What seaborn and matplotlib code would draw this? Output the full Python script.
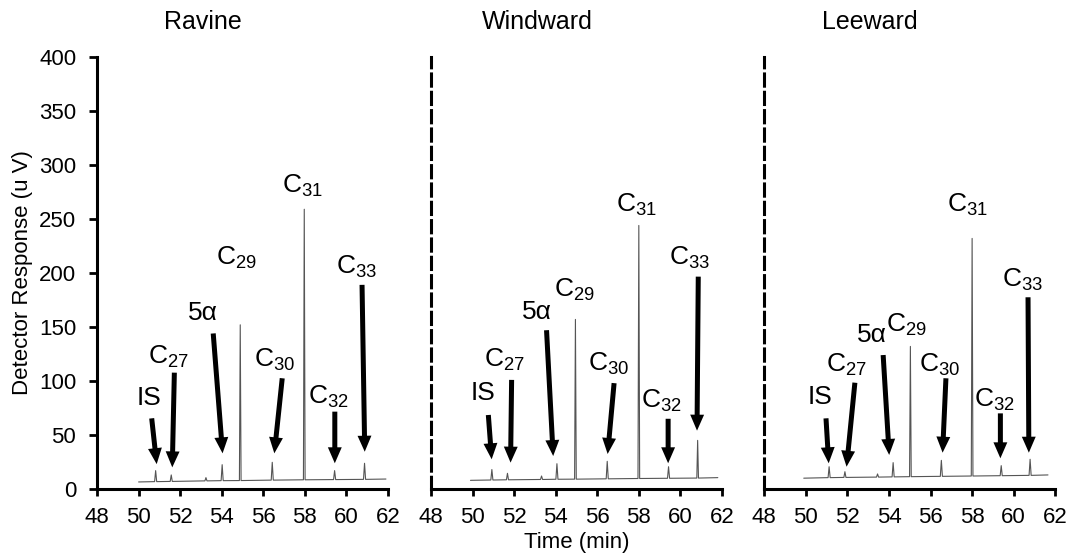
import pandas as pd
import matplotlib
matplotlib.use("Agg")
import matplotlib.pyplot as plt
import seaborn as sns

sns.set_style("white")
plt.rcParams['font.family'] = ['Liberation Sans', 'DejaVu Sans']
plt.rcParams['mathtext.default'] = 'regular'
plt.rcParams['text.color'] = 'black'
plt.rcParams['axes.labelcolor'] = 'black'
plt.rcParams['xtick.color'] = 'black'
plt.rcParams['ytick.color'] = 'black'

# chromatogram traces (time in min, response in uV)
sites = ["Ravine", "Windward", "Leeward"]

ravine_time = [50.0, 50.77, 50.82, 50.87, 51.52, 51.57, 51.62, 53.19, 53.24, 53.29,
               53.97, 54.02, 54.07, 54.85, 54.89, 54.93, 56.38, 56.43, 56.48, 57.93,
               57.97, 58.01, 59.38, 59.43, 59.48, 60.82, 60.87, 60.92, 61.9]
ravine_resp = [6.5, 6.8, 17, 6.8, 7, 13, 7, 7.5, 10.5, 7.5,
               7.7, 22.5, 7.7, 7.8, 152, 7.8, 8.2, 24.7, 8.2, 8.5,
               259, 8.5, 8.7, 17, 8.7, 8.9, 23.8, 8.9, 9.2]

windward_time = [49.9, 50.88, 50.93, 50.98, 51.63, 51.68, 51.73, 53.27, 53.32, 53.37,
                 54.01, 54.06, 54.11, 54.91, 54.95, 54.99, 56.43, 56.48, 56.53, 57.96,
                 58.0, 58.04, 59.38, 59.43, 59.48, 60.79, 60.83, 60.87, 61.8]
windward_resp = [8, 8.3, 18, 8.3, 8.5, 14.5, 8.5, 8.8, 12, 8.8,
                 9, 23.4, 9, 9.1, 157, 9.1, 9.4, 25.6, 9.4, 9.7,
                 244, 9.7, 9.9, 20.6, 9.9, 10.1, 45, 10.1, 10.5]

leeward_time = [49.9, 51.07, 51.12, 51.17, 51.83, 51.88, 51.93, 53.4, 53.45, 53.5,
                54.15, 54.2, 54.25, 54.99, 55.03, 55.07, 56.47, 56.52, 56.57, 57.96,
                58.0, 58.04, 59.35, 59.4, 59.45, 60.74, 60.79, 60.84, 61.65]
leeward_resp = [10, 10.5, 20.6, 10.5, 10.7, 16, 10.7, 11, 13.9, 11,
                11.2, 24.4, 11.2, 11.4, 132, 11.4, 11.7, 26.5, 11.7, 12,
                232, 12, 12.3, 21.6, 12.3, 12.6, 27.5, 12.6, 13]

# peak labels
peak_names = ["IS", "C$_{27}$", "5\u03b1", "C$_{29}$", "C$_{30}$", "C$_{31}$", "C$_{32}$", "C$_{33}$"]

# label positions (x, y) per site
ravine_labels = [(50.51, 84.5), (51.43, 122.5), (53.11, 162.7), (54.73, 214),
                 (56.56, 119.4), (57.9, 281), (59.12, 85.5), (60.5, 206)]
windward_labels = [(50.51, 88.6), (51.56, 119.4), (53.08, 164), (54.92, 184),
                   (56.53, 116), (57.9, 263), (59.09, 82), (60.45, 214)]
leeward_labels = [(50.68, 85.5), (51.96, 114.8), (53.16, 142.6), (54.85, 152),
                  (56.45, 114.8), (57.79, 263), (59.09, 82.4), (60.43, 194)]

# arrows: (start x, start y, tip x, tip y), None = no arrow
ravine_arrows = [(50.63, 65.4, 50.87, 23), (51.72, 107.7, 51.62, 20), (53.59, 144, 54.04, 33), None,
                 (56.91, 102.5, 56.53, 33), None, (59.44, 71.6, 59.44, 23.8), (60.75, 189, 60.88, 34.5)]
windward_arrows = [(50.76, 68.5, 50.92, 27.5), (51.88, 101, 51.83, 24.4), (53.56, 147, 53.88, 30.5), None,
                   (56.81, 98, 56.5, 32.4), None, (59.41, 65, 59.41, 23.8), (60.86, 196.6, 60.8, 54)]
leeward_arrows = [(50.97, 65.4, 51.1, 23.8), (52.36, 98.4, 51.96, 20.6), (53.72, 124, 54.01, 31.5), None,
                  (56.74, 102.5, 56.58, 33.6), None, (59.36, 70, 59.36, 28.4), (60.69, 177.5, 60.73, 33.6)]

traces = [(ravine_time, ravine_resp), (windward_time, windward_resp), (leeward_time, leeward_resp)]
labels = [ravine_labels, windward_labels, leeward_labels]
arrows = [ravine_arrows, windward_arrows, leeward_arrows]

fig = plt.figure(figsize=(10.71, 5.58), dpi=100)
lefts = [0.0906, 0.4024, 0.7136]
axes = [fig.add_axes([l, 0.1237, 0.2717, 0.7742]) for l in lefts]

for i, ax in enumerate(axes):
    df = pd.DataFrame({"Time": traces[i][0], "Response": traces[i][1]})
    sns.lineplot(data=df, x="Time", y="Response", ax=ax, color="#555555", linewidth=0.8)

    ax.set_xlim(48, 62)
    ax.set_ylim(0, 400)
    ax.set_xticks(range(48, 63, 2))
    ax.set_yticks(range(0, 401, 50))
    ax.tick_params(axis='x', direction='out', length=5, width=2, labelsize=16, bottom=True, pad=8)
    for side in ["top", "right"]:
        ax.spines[side].set_visible(False)
    ax.spines["bottom"].set_linewidth(2.2)
    ax.spines["left"].set_linewidth(2.2)
    ax.spines["bottom"].set_color("black")
    ax.spines["left"].set_color("black")

    if i == 0:
        ax.tick_params(axis='y', direction='out', length=6, width=2, labelsize=16, left=True, pad=9)
        ax.set_ylabel("Detector Response (u V)", fontsize=16, labelpad=4)
    else:
        ax.spines["left"].set_linestyle((0, (4, 2)))
        ax.tick_params(axis='y', left=False, labelleft=False)
        ax.set_ylabel("")
    if i == 1:
        ax.set_xlabel("Time (min)", fontsize=16, labelpad=3)
    else:
        ax.set_xlabel("")

    ax.text(53.1, 1.081, sites[i], transform=ax.get_xaxis_transform(),
            ha="center", va="center", fontsize=18)

    for name, (lx, ly), arr in zip(peak_names, labels[i], arrows[i]):
        ax.text(lx, ly, name, ha="center", va="center", fontsize=19)
        if arr is not None:
            ax.annotate("", xy=(arr[2], arr[3]), xytext=(arr[0], arr[1]),
                        arrowprops=dict(facecolor="black", edgecolor="none",
                                        width=3.6, headwidth=10, headlength=11.5, shrink=0))

fig.savefig("out.png", dpi=100)
